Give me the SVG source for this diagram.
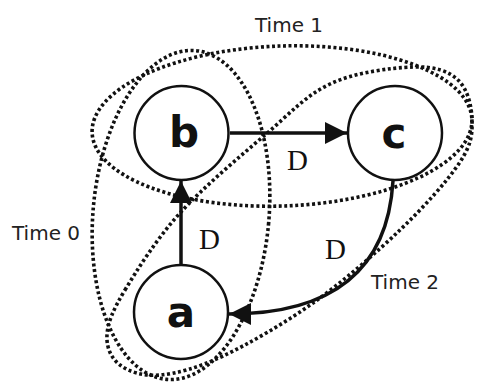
<svg xmlns="http://www.w3.org/2000/svg" width="477" height="387" viewBox="0 0 477 387">
  <style>
    .group { fill: none; stroke: #111; stroke-width: 3.6; stroke-dasharray: 3 2.6; }
    .node circle { fill: #fff; stroke: #111; stroke-width: 2.5; }
    .node text { font-family: "DejaVu Sans", sans-serif; font-weight: bold; font-size: 42px; fill: #111; text-anchor: middle; }
    .edge { fill: none; stroke: #111; stroke-width: 3.5; }
    .elabel { font-family: "Liberation Serif", serif; font-size: 29px; fill: #111; }
    .glabel { font-family: "DejaVu Sans", sans-serif; font-size: 20px; fill: #222; }
  </style>
  <defs>
    <marker id="arrow" markerUnits="userSpaceOnUse" markerWidth="22" markerHeight="22" refX="22" refY="11" orient="auto">
      <path d="M0,0 L22,11 L0,22 z" fill="#111"/>
    </marker>
  </defs>
  <rect width="477" height="387" fill="#fff"/>

  <!-- time-slice groupings -->
  <g id="groups">
    <ellipse id="time0" class="group" cx="181" cy="215" rx="88" ry="165" transform="rotate(5 181 215)"/>
    <ellipse id="time1" class="group" cx="282" cy="126" rx="190" ry="80" transform="rotate(-2 282 126)"/>
    <path id="time2" class="group" d="M125,290 C137.2,269.7 156.7,238.8 180,213 C203.3,187.2 240,156.5 265,135 C290,113.5 305.3,95.8 330,84 C354.7,72.2 391.7,67.7 413,67 C434.3,66.3 448.2,70.7 458,80 C467.8,89.3 471.7,106.3 472,120 C472.3,133.7 472,143.7 460,162 C448,180.3 424.5,206.5 400,230 C375.5,253.5 342.5,282 313,303 C283.5,324 248.5,344 223,356 C197.5,368 177.2,373.5 160,375 C142.8,376.5 128.8,371.7 120,365 C111.2,358.3 106.2,347.5 107,335 C107.8,322.5 112.8,310.3 125,290 Z"/>
  </g>

  <!-- connectors -->
  <g id="edges">
    <path class="edge" d="M230,133 L347,133" marker-end="url(#arrow)"/>
    <path class="edge" d="M181,265 L181,181" marker-end="url(#arrow)"/>
    <path class="edge" d="M393,181 Q385,314 229,314" marker-end="url(#arrow)"/>
  </g>

  <g id="node-b" class="node">
    <circle cx="181.5" cy="133" r="47"/>
    <text x="184" y="147">b</text>
  </g>
  <g id="node-c" class="node">
    <circle cx="395" cy="133" r="47"/>
    <text x="394" y="148">c</text>
  </g>
  <g id="node-a" class="node">
    <circle cx="181" cy="312" r="47"/>
    <text x="181" y="327">a</text>
  </g>

  <g id="edge-labels">
    <text class="elabel" x="287" y="170">D</text>
    <text class="elabel" x="199" y="249">D</text>
    <text class="elabel" x="325" y="259">D</text>
  </g>

  <g id="group-labels">
    <text class="glabel" x="255" y="32">Time 1</text>
    <text class="glabel" x="12" y="240">Time 0</text>
    <text class="glabel" x="371" y="289">Time 2</text>
  </g>
</svg>
